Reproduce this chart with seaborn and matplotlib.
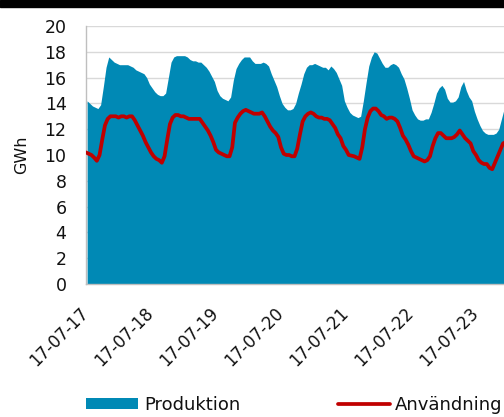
import numpy as np
import pandas as pd
import seaborn as sns
import matplotlib
matplotlib.use("Agg")
import matplotlib.pyplot as plt
from matplotlib.patches import Patch, Rectangle
from matplotlib.lines import Line2D

# Hourly values from 2017-07-17 00:00
produktion = [
    14.2, 14.0, 13.8, 13.7, 13.6, 13.9, 15.3, 16.8, 17.6, 17.4, 17.2, 17.1,
    17.0, 17.0, 17.0, 17.0, 16.9, 16.8, 16.6, 16.5, 16.4, 16.3, 16.0, 15.5,
    15.2, 14.9, 14.7, 14.6, 14.6, 14.8, 16.0, 17.2, 17.6, 17.7, 17.7, 17.7,
    17.7, 17.6, 17.4, 17.3, 17.3, 17.2, 17.2, 17.0, 16.8, 16.5, 16.1, 15.7,
    15.0, 14.6, 14.4, 14.3, 14.2, 14.5, 15.8, 16.7, 17.1, 17.4, 17.6, 17.6,
    17.6, 17.3, 17.1, 17.1, 17.1, 17.2, 17.1, 16.9, 16.3, 15.8, 15.3, 14.6,
    14.0, 13.7, 13.5, 13.5, 13.6, 14.0, 14.8, 15.5, 16.3, 16.8, 17.0, 17.0,
    17.1, 17.0, 16.9, 16.8, 16.8, 16.6, 16.9, 16.7, 16.4, 15.9, 15.4, 14.2,
    13.7, 13.3, 13.1, 13.0, 12.9, 13.0, 14.2, 15.6, 16.9, 17.6, 18.0, 17.9,
    17.5, 17.1, 16.8, 16.8, 17.0, 17.1, 17.0, 16.8, 16.3, 15.9, 15.2, 14.4,
    13.5, 13.1, 12.8, 12.7, 12.7, 12.8, 12.8, 13.3, 14.0, 14.8, 15.2, 15.4,
    15.1, 14.4, 14.1, 14.1, 14.2, 14.5, 15.3, 15.7, 15.0, 14.5, 14.2, 13.4,
    12.8, 12.3, 11.9, 11.7, 11.6, 11.6, 11.6, 11.7, 12.0, 12.8, 13.6, 14.0,
]
anvandning = [
    10.2, 10.1, 10.0, 9.8, 9.55, 10.0, 11.2, 12.3, 12.8, 13.0, 13.0, 13.0,
    12.9, 13.0, 13.0, 12.9, 13.0, 13.0, 12.7, 12.3, 11.9, 11.5, 11.0, 10.6,
    10.2, 9.9, 9.7, 9.6, 9.4, 9.9, 11.2, 12.4, 12.9, 13.1, 13.1, 13.0,
    13.0, 12.9, 12.8, 12.8, 12.8, 12.8, 12.8, 12.5, 12.2, 11.9, 11.5, 11.0,
    10.4, 10.2, 10.1, 10.0, 9.9, 9.9, 10.6, 12.5, 12.9, 13.2, 13.4, 13.5,
    13.4, 13.3, 13.2, 13.2, 13.2, 13.3, 13.0, 12.6, 12.2, 11.9, 11.7, 11.4,
    10.6, 10.1, 10.0, 10.0, 9.9, 9.9, 10.5, 11.6, 12.6, 13.0, 13.2, 13.3,
    13.2, 13.0, 12.9, 12.9, 12.8, 12.8, 12.7, 12.4, 12.1, 11.6, 11.3, 10.7,
    10.4, 10.0, 9.95, 9.9, 9.8, 9.7, 10.6, 12.0, 12.9, 13.4, 13.6, 13.6,
    13.4, 13.1, 13.0, 12.8, 12.9, 12.9, 12.8, 12.6, 12.1, 11.5, 11.2, 10.8,
    10.3, 9.9, 9.8, 9.7, 9.6, 9.5, 9.6, 9.9, 10.7, 11.3, 11.7, 11.7,
    11.5, 11.3, 11.3, 11.3, 11.4, 11.6, 11.9, 11.6, 11.3, 11.1, 10.9, 10.3,
    10.0, 9.6, 9.4, 9.3, 9.3, 9.0, 8.9, 9.4, 9.9, 10.4, 10.9, 11.0,
]
tick_labels = ["17-07-17", "17-07-18", "17-07-19", "17-07-20",
               "17-07-21", "17-07-22", "17-07-23"]
series_names = ["Produktion", "Användning"]

hours = np.arange(len(produktion))
df = pd.DataFrame({"hour": hours, "Produktion": produktion, "Användning": anvandning})

sns.set_theme(style="white")
plt.rcParams["font.family"] = ["DejaVu Sans"]

W, H = 504, 417
fig = plt.figure(figsize=(W / 100, H / 100), dpi=100)
x0, x1 = 86, 86 + 65 * 7
y0, y1 = 284, 26
ax = fig.add_axes([x0 / W, (H - y0) / H, (x1 - x0) / W, (y0 - y1) / H])

blue = "#0089B5"
red = "#C00000"
txt = "#111111"

ax.fill_between(df["hour"] + 0.4, 0, df["Produktion"], color=blue, linewidth=0, zorder=2)
sns.lineplot(data=df, x="hour", y="Användning", color=red, linewidth=2.7, ax=ax,
             zorder=3, legend=False)

ax.set_xlim(0, 24 * 7)
ax.set_ylim(0, 20)
ax.set_yticks(np.arange(0, 21, 2))
ax.set_xticks(np.arange(len(tick_labels)) * 24)
ax.set_xticklabels(tick_labels, rotation=45, ha="right", va="center",
                   rotation_mode="anchor", fontsize=12, color=txt)
ax.tick_params(axis="y", labelsize=12.5, labelcolor=txt, length=5, width=0.8,
               direction="out", pad=9, color="#BFBFBF")
ax.tick_params(axis="x", length=5, width=0.8, direction="out", pad=14, color="#BFBFBF")
ax.yaxis.grid(True, color="#D9D9D9", linewidth=1.0, zorder=0)
ax.set_axisbelow(True)
ax.set_xlabel("")
ax.set_ylabel("GWh", fontsize=11.5, color=txt)
ax.yaxis.set_label_coords(-0.124, 0.5)
for s in ["top", "right"]:
    ax.spines[s].set_visible(False)
for s in ["left", "bottom"]:
    ax.spines[s].set_color("#BFBFBF")
    ax.spines[s].set_linewidth(1.0)

# black bar on top
fig.patches.append(Rectangle((0, 1 - 7 / H), 1, 7 / H, transform=fig.transFigure,
                             color="black", zorder=10))

handles = [Patch(facecolor=blue, edgecolor="none"),
           Line2D([0], [0], color=red, linewidth=2.7)]
leg = fig.legend(handles, series_names, loc="center left",
                 bbox_to_anchor=(86 / W, 1 - 405 / H), ncol=2, frameon=False,
                 fontsize=13, handlelength=2.9, handleheight=0.55, handletextpad=0.3,
                 columnspacing=5.4, borderaxespad=0, borderpad=0)
for t in leg.get_texts():
    t.set_color(txt)

fig.savefig("out.png", dpi=100)
